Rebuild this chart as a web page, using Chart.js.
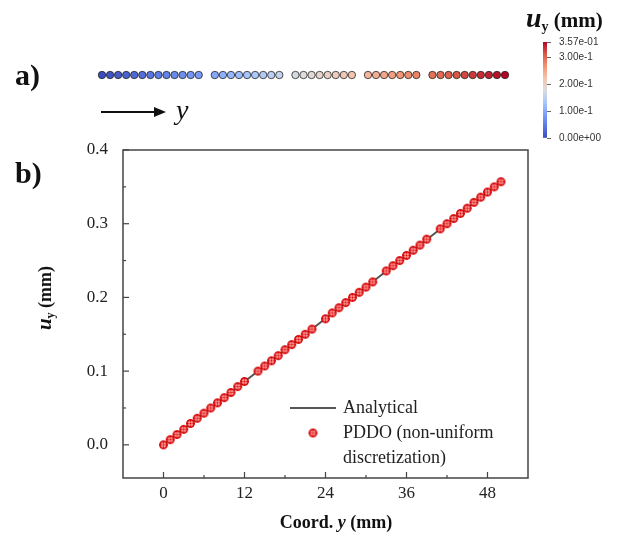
<!DOCTYPE html>
<html>
<head>
<meta charset="utf-8">
<script src="https://cdn.jsdelivr.net/npm/chart.js@4.4.0/dist/chart.umd.min.js"></script>
<style>
  body { margin: 0; width: 618px; height: 539px; background: #fff; position: relative; overflow: hidden; font-family: "Liberation Serif", serif; color: #111; }
  canvas { position: absolute; }
  #main { left: 0px; top: 0px; }
  #nodes { left: 0px; top: 60px; }
  #cbar { left: 530px; top: 28px; }
  .txt { position: absolute; white-space: nowrap; font-weight: bold; line-height: 1; }
  .panel { font-size: 30px; }
  .u { font-style: italic; }
  sub { font-size: 0.6em; vertical-align: -0.25em; }
</style>
</head>
<body>
<canvas id="main" width="618" height="539"></canvas>
<canvas id="nodes" width="618" height="30"></canvas>
<canvas id="cbar" width="88" height="125"></canvas>

<div class="txt panel" style="left:15px;top:60px">a)</div>
<div class="txt panel" style="left:15px;top:158px">b)</div>

<svg style="position:absolute;left:98px;top:100px" width="100" height="26">
  <line x1="3" y1="12" x2="58" y2="12" stroke="#111" stroke-width="2"/>
  <polygon points="56,7 68,12 56,17" fill="#111"/>
</svg>
<div class="txt" style="left:176px;top:96px;font-size:28px;font-weight:normal;font-style:italic">y</div>

<div class="txt" style="left:526px;top:4px;font-size:21px"><span class="u" style="font-size:28px">u</span><sub style="font-size:14px">y</sub> (mm)</div>

<div class="txt" style="left:45px;top:298px;font-size:18px;transform:translate(-50%,-50%) rotate(-90deg)"><span class="u" style="font-size:21px">u</span><sub style="font-size:12px">y</sub> (mm)</div>
<div class="txt" style="left:336px;top:513px;font-size:18px;transform:translateX(-50%)">Coord. <span class="u">y</span> (mm)</div>

<script>
// nodal coordinates (mm) and displacement u_y (mm)
const coordY = [0, 1, 2, 3, 4, 5, 6, 7, 8, 9, 10, 11, 12,
                14, 15, 16, 17, 18, 19, 20, 21, 22,
                24, 25, 26, 27, 28, 29, 30, 31,
                33, 34, 35, 36, 37, 38, 39,
                41, 42, 43, 44, 45, 46, 47, 48, 49, 50];
const dispU = [0.000, 0.007, 0.014, 0.021, 0.029, 0.036, 0.043, 0.050, 0.057, 0.064, 0.071, 0.079, 0.086,
               0.100, 0.107, 0.114, 0.121, 0.129, 0.136, 0.143, 0.150, 0.157,
               0.171, 0.179, 0.186, 0.193, 0.200, 0.207, 0.214, 0.221,
               0.236, 0.243, 0.250, 0.257, 0.264, 0.271, 0.279,
               0.293, 0.300, 0.307, 0.314, 0.321, 0.329, 0.336, 0.343, 0.350, 0.357];

// analytical solution endpoints
const analyticY = [0, 50];
const analyticU = [0, 0.357];

const xTicks = [0, 12, 24, 36, 48];
const xMinor = [6, 18, 30, 42];
const yTicks = [0, 0.1, 0.2, 0.3, 0.4];
const yMinor = [0.05, 0.15, 0.25, 0.35];

const cbarTicks = [0, 0.1, 0.2, 0.3, 0.357];
const cbarLabels = ['0.00e+00', '1.00e-1', '2.00e-1', '3.00e-1', '3.57e-01'];

// cool-to-warm colour map stops
const cmap = [
  [0.0, [59, 76, 192]],
  [0.125, [90, 120, 227]],
  [0.25, [124, 159, 249]],
  [0.375, [170, 199, 253]],
  [0.5, [221, 221, 221]],
  [0.625, [244, 196, 173]],
  [0.75, [241, 146, 113]],
  [0.875, [218, 90, 71]],
  [1.0, [180, 4, 38]]
];
function colorAt(t) {
  t = Math.max(0, Math.min(1, t));
  for (let i = 1; i < cmap.length; i++) {
    if (t <= cmap[i][0]) {
      const [t0, c0] = cmap[i - 1], [t1, c1] = cmap[i];
      const f = (t - t0) / (t1 - t0);
      const c = c0.map((v, k) => Math.round(v + (c1[k] - v) * f));
      return `rgb(${c[0]},${c[1]},${c[2]})`;
    }
  }
  return 'rgb(180,4,38)';
}
const uMax = cbarTicks[cbarTicks.length - 1];

// circle marker with cross hatching
function makeMarker(r) {
  const s = Math.ceil(2 * r + 2);
  const c = document.createElement('canvas');
  c.width = s; c.height = s;
  const g = c.getContext('2d');
  const m = s / 2;
  g.beginPath(); g.arc(m, m, r, 0, Math.PI * 2);
  g.fillStyle = '#e00000'; g.fill();
  g.save(); g.clip();
  g.strokeStyle = '#ffb8b8'; g.lineWidth = 0.9;
  [-1.4, 1.4].forEach(d => {
    g.beginPath(); g.moveTo(m + d, 0); g.lineTo(m + d, s); g.stroke();
    g.beginPath(); g.moveTo(0, m + d); g.lineTo(s, m + d); g.stroke();
  });
  g.restore();
  g.beginPath(); g.arc(m, m, r - 0.5, 0, Math.PI * 2);
  g.strokeStyle = '#d00000'; g.lineWidth = 1.2; g.stroke();
  return c;
}
const marker = makeMarker(4.2);

const serif = 'Liberation Serif';

// frame, inward ticks and the inset legend
const framePlugin = {
  id: 'frame',
  afterDraw(chart) {
    const { ctx, chartArea: a, scales } = chart;
    ctx.save();
    ctx.strokeStyle = '#444';
    ctx.lineWidth = 1.5;
    ctx.strokeRect(a.left, a.top, a.right - a.left, a.bottom - a.top);
    ctx.lineWidth = 1.2;
    const tick = (list, len) => {
      list.forEach(v => {
        const px = scales.x.getPixelForValue(v);
        ctx.beginPath(); ctx.moveTo(px, a.bottom); ctx.lineTo(px, a.bottom - len); ctx.stroke();
      });
    };
    const ytick = (list, len) => {
      list.forEach(v => {
        const py = scales.y.getPixelForValue(v);
        ctx.beginPath(); ctx.moveTo(a.left, py); ctx.lineTo(a.left + len, py); ctx.stroke();
      });
    };
    tick(xTicks, 6); tick(xMinor, 3);
    ytick(yTicks, 6); ytick(yMinor, 3);

    // legend
    const lx = a.left + 167, ly = a.top + 258;
    ctx.strokeStyle = '#555'; ctx.lineWidth = 2;
    ctx.beginPath(); ctx.moveTo(lx, ly); ctx.lineTo(lx + 46, ly); ctx.stroke();
    ctx.drawImage(marker, lx + 23 - marker.width / 2, ly + 25 - marker.height / 2);
    ctx.fillStyle = '#222';
    ctx.font = `18px "${serif}"`;
    ctx.textBaseline = 'middle';
    ctx.fillText('Analytical', lx + 53, ly);
    ctx.fillText('PDDO (non-uniform', lx + 53, ly + 25);
    ctx.fillText('discretization)', lx + 53, ly + 50);
    ctx.restore();
  }
};

new Chart(document.getElementById('main'), {
  type: 'scatter',
  data: {
    datasets: [{
      label: 'PDDO (non-uniform discretization)',
      data: coordY.map((y, i) => ({ x: y, y: dispU[i] })),
      pointStyle: marker,
      pointRadius: 4,
      order: 0
    }, {
      label: 'Analytical',
      type: 'line',
      data: analyticY.map((y, i) => ({ x: y, y: analyticU[i] })),
      borderColor: '#555',
      borderWidth: 2,
      pointRadius: 0,
      order: 1
    }]
  },
  options: {
    responsive: false,
    animation: false,
    devicePixelRatio: 1,
    layout: { padding: { left: 0, top: 150, right: 90, bottom: 0 } },
    plugins: { legend: { display: false }, tooltip: { enabled: false } },
    scales: {
      x: {
        type: 'linear', min: -6, max: 54,
        afterBuildTicks: s => { s.ticks = xTicks.map(v => ({ value: v })); },
        afterFit: s => { s.height = 61; },
        grid: { display: false, tickLength: 0 }, border: { display: false },
        ticks: { font: { family: serif, size: 17 }, color: '#222', padding: 5, maxRotation: 0 }
      },
      y: {
        type: 'linear', min: -0.045, max: 0.4,
        afterBuildTicks: s => { s.ticks = yTicks.map(v => ({ value: v })); },
        afterFit: s => { s.width = 123; },
        grid: { display: false, tickLength: 0 }, border: { display: false },
        ticks: { font: { family: serif, size: 17 }, color: '#222', padding: 15, callback: v => v.toFixed(1) }
      }
    }
  },
  plugins: [framePlugin]
});

// discretised bar coloured by u_y
new Chart(document.getElementById('nodes'), {
  type: 'scatter',
  data: {
    datasets: [{
      data: coordY.map(y => ({ x: y, y: 0 })),
      pointRadius: 3.7,
      pointBackgroundColor: dispU.map(u => colorAt(u / uMax)),
      pointBorderColor: 'rgba(30,30,30,0.85)',
      pointBorderWidth: 0.9,
      clip: false
    }]
  },
  options: {
    responsive: false,
    animation: false,
    devicePixelRatio: 1,
    layout: { padding: { left: 102, right: 113, top: 0, bottom: 0 } },
    plugins: { legend: { display: false }, tooltip: { enabled: false } },
    scales: {
      x: { type: 'linear', min: 0, max: 50, display: false },
      y: { type: 'linear', min: -1, max: 1, display: false }
    }
  }
});

// colour bar
new Chart(document.getElementById('cbar'), {
  type: 'bar',
  data: {
    labels: ['u'],
    datasets: [{
      data: [[0, uMax]],
      barPercentage: 1,
      categoryPercentage: 1,
      backgroundColor: (c) => {
        const a = c.chart.chartArea;
        if (!a) return '#ddd';
        const g = c.chart.ctx.createLinearGradient(0, a.bottom, 0, a.top);
        cmap.forEach(([t, col]) => g.addColorStop(t, `rgb(${col[0]},${col[1]},${col[2]})`));
        return g;
      }
    }]
  },
  options: {
    responsive: false,
    animation: false,
    devicePixelRatio: 1,
    layout: { padding: { left: 13, top: 8, bottom: 15, right: 0 } },
    plugins: { legend: { display: false }, tooltip: { enabled: false } },
    scales: {
      x: { display: false },
      y: {
        position: 'right', min: 0, max: uMax,
        afterBuildTicks: s => { s.ticks = cbarTicks.map(v => ({ value: v })); },
        afterFit: s => { s.width = 71; },
        grid: { drawOnChartArea: false, drawTicks: true, tickLength: 4, color: '#666' },
        border: { display: false },
        ticks: { font: { family: 'Liberation Sans', size: 10 }, color: '#333', padding: 8,
                 callback: (v, i) => cbarLabels[i] }
      }
    }
  }
});
</script>
</body>
</html>
